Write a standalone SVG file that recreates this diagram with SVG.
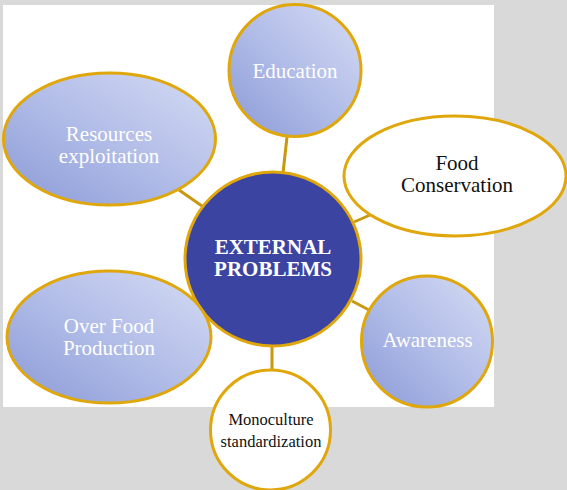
<svg xmlns="http://www.w3.org/2000/svg" width="567" height="490" viewBox="0 0 567 490">
  <style>
    .node { stroke: #e0a70c; stroke-width: 3; }
    .sat { fill: url(#satFill); }
    .plain { fill: #ffffff; }
    .hub { fill: #3c44a1; }
    .link { stroke: #c9980e; stroke-width: 3; fill: none; }
    text { font-family: "Liberation Serif", "Times New Roman", serif; text-anchor: middle; }
    .light { fill: #ffffff; font-size: 21px; }
    .dark { fill: #111111; font-size: 21px; }
    .small { fill: #111111; font-size: 16.5px; }
    .hubText { fill: #ffffff; font-size: 21px; font-weight: bold; }
  </style>
  <defs>
    <linearGradient id="satFill" x1="0" y1="1" x2="1" y2="0">
      <stop offset="0" stop-color="#8a9ad6"/>
      <stop offset="0.5" stop-color="#b2bde8"/>
      <stop offset="1" stop-color="#d6dcf4"/>
    </linearGradient>
  </defs>

  <!-- page -->
  <rect x="0" y="0" width="567" height="490" fill="#d9d9d9"/>
  <rect x="3" y="5" width="491" height="402" fill="#ffffff"/>

  <!-- connectors -->
  <g id="connectors">
    <line class="link" x1="287" y1="137" x2="283" y2="173"/>
    <line class="link" x1="179" y1="190" x2="202" y2="206"/>
    <line class="link" x1="370" y1="215" x2="354" y2="222"/>
    <line class="link" x1="352" y1="301" x2="369" y2="310"/>
    <line class="link" x1="272" y1="346" x2="272" y2="371"/>
  </g>

  <g id="hub">
    <ellipse class="node hub" cx="273" cy="259" rx="88" ry="87"/>
    <text class="hubText" x="273" y="254">EXTERNAL</text>
    <text class="hubText" x="273" y="276">PROBLEMS</text>
  </g>

  <g id="education">
    <ellipse class="node sat" cx="295" cy="70.5" rx="66" ry="66"/>
    <text class="light" x="295" y="78">Education</text>
  </g>

  <g id="resources">
    <ellipse class="node sat" cx="109.5" cy="139" rx="106" ry="66"/>
    <text class="light" x="109" y="141">Resources</text>
    <text class="light" x="109" y="163">exploitation</text>
  </g>

  <g id="food-conservation">
    <ellipse class="node plain" cx="455" cy="176" rx="111" ry="60"/>
    <text class="dark" x="457" y="170">Food</text>
    <text class="dark" x="457" y="192">Conservation</text>
  </g>

  <g id="over-food">
    <ellipse class="node sat" cx="109" cy="337" rx="102" ry="66"/>
    <text class="light" x="109" y="333">Over Food</text>
    <text class="light" x="109" y="355">Production</text>
  </g>

  <g id="awareness">
    <ellipse class="node sat" cx="427" cy="341.5" rx="65.5" ry="65.5"/>
    <text class="light" x="427.5" y="347">Awareness</text>
  </g>

  <g id="monoculture">
    <ellipse class="node plain" cx="270.5" cy="430" rx="60" ry="60"/>
    <text class="small" x="271" y="425">Monoculture</text>
    <text class="small" x="271" y="447">standardization</text>
  </g>
</svg>
